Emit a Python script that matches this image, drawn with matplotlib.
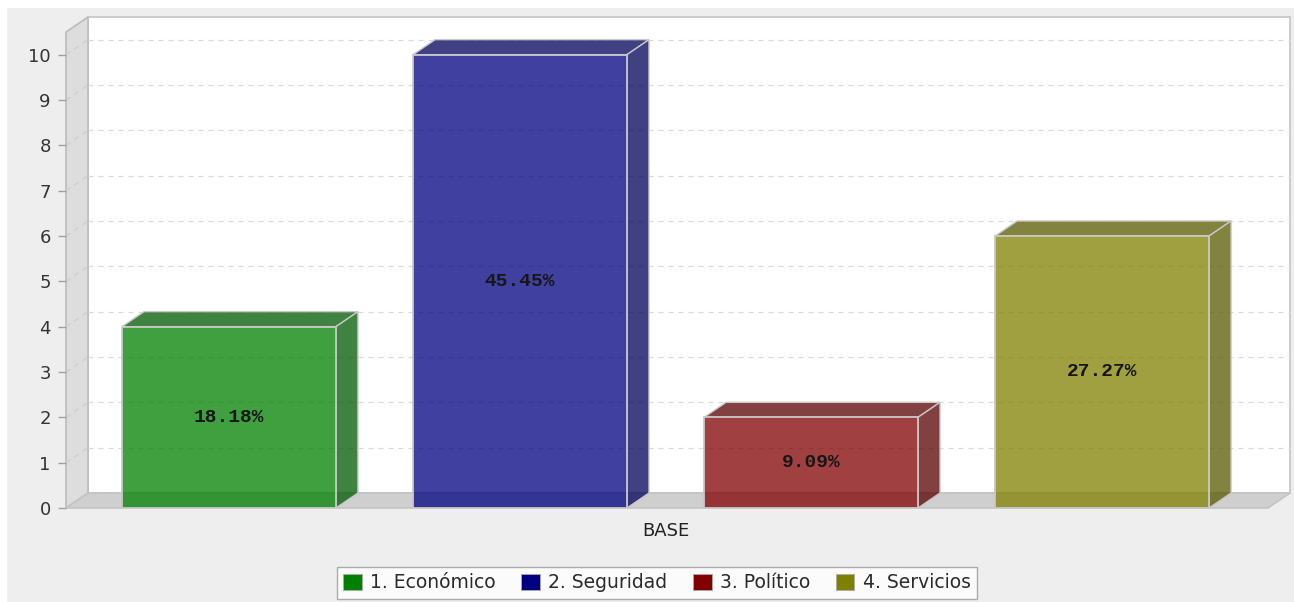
import numpy as np
import matplotlib
matplotlib.use("Agg")
import matplotlib.pyplot as plt
from matplotlib.patches import Polygon, Rectangle, Patch
from matplotlib.colors import to_rgb

plt.rcParams['font.family'] = ['DejaVu Sans']

# data
series = ["1. Económico", "2. Seguridad", "3. Político", "4. Servicios"]
values = [4, 10, 2, 6]
pct_labels = ["18.18%", "45.45%", "9.09%", "27.27%"]
base_colors = ["#008000", "#000080", "#800000", "#808000"]
category = "BASE"

W, H = 1294, 602
fig = plt.figure(figsize=(W / 100, H / 100), dpi=100)
fig.patch.set_facecolor("white")
fig.patches.append(Rectangle((7 / W, 0), 1, 1 - 8 / H, transform=fig.transFigure,
                             facecolor="#eeeeee", edgecolor="none", zorder=-10))

ax = fig.add_axes([66 / W, (H - 508) / H, 1202 / W, 476 / H])
ax.patch.set_alpha(0)
xmin, xmax = -0.56, 3.57
ymin, ymax = 0, 10.5
ax.set_xlim(xmin, xmax)
ax.set_ylim(ymin, ymax)
for s in ax.spines.values():
    s.set_visible(False)

# 3D depth offset (pixels -> data units)
px_x = 1202 / (xmax - xmin)
px_y = 476 / (ymax - ymin)
dx = 22 / px_x
dy = 15 / px_y

edge = "#c4c4c4"
# back wall
ax.add_patch(Polygon([(xmin + dx, dy), (xmax + dx, dy), (xmax + dx, ymax + dy), (xmin + dx, ymax + dy)],
                     closed=True, facecolor="white", edgecolor=edge, lw=1.2, clip_on=False, zorder=0))
# left wall
ax.add_patch(Polygon([(xmin, 0), (xmin + dx, dy), (xmin + dx, ymax + dy), (xmin, ymax)],
                     closed=True, facecolor="#dddddd", edgecolor="#bcbcbc", lw=1.2, clip_on=False, zorder=0.5))
# floor
ax.add_patch(Polygon([(xmin, 0), (xmax, 0), (xmax + dx, dy), (xmin + dx, dy)],
                     closed=True, facecolor="#cfcfcf", edgecolor=edge, lw=1.2, clip_on=False, zorder=0.5))

# grid lines
for v in range(1, 11):
    ax.plot([xmin + dx, xmax + dx], [v + dy, v + dy], ls=(0, (4, 4)), color="#d9d9d9",
            lw=0.9, clip_on=False, zorder=1)
    ax.plot([xmin, xmin + dx], [v, v + dy], ls=(0, (4, 4)), color="#cdcdcd",
            lw=0.9, clip_on=False, zorder=1)

# bars
bw = 0.735
xs = np.arange(len(values))
alpha = 0.75
for i, (v, c) in enumerate(zip(values, base_colors)):
    rgb = np.array(to_rgb(c))
    dark = rgb * 0.7
    x0, x1 = xs[i] - bw / 2, xs[i] + bw / 2
    ax.bar(xs[i], v, width=bw, color=(*rgb, alpha), edgecolor="#c8c8c8", lw=1.3, zorder=3)
    ax.add_patch(Polygon([(x0, v), (x1, v), (x1 + dx, v + dy), (x0 + dx, v + dy)], closed=True,
                         facecolor=(*dark, alpha), edgecolor="#c8c8c8", lw=1.0, zorder=2.5, clip_on=False))
    ax.add_patch(Polygon([(x1, 0), (x1 + dx, dy), (x1 + dx, v + dy), (x1, v)], closed=True,
                         facecolor=(*dark, alpha), edgecolor="#c8c8c8", lw=1.0, zorder=2.5, clip_on=False))
    ax.text(xs[i], v / 2, pct_labels[i], ha="center", va="center", fontsize=14,
            fontweight="bold", family="Liberation Mono", color="#161616", zorder=5)

ax.set_yticks(range(0, 11))
ax.tick_params(axis="y", length=6, width=1, color="#a0a0a0", labelsize=13, labelcolor="#333333", pad=5)
ax.set_xticks([(xs[0] + xs[-1]) / 2])
ax.set_xticklabels([category])
ax.tick_params(axis="x", length=0, labelsize=13, labelcolor="#222222", pad=10)

handles = [Patch(facecolor=c, edgecolor="#aaaaaa", lw=0.6) for c in base_colors]
leg = fig.legend(handles, series, loc="center", bbox_to_anchor=(657 / W, 1 - 583 / H), ncol=4,
                 fontsize=13.5, frameon=True, fancybox=False, handlelength=1.0, handleheight=1.0,
                 handletextpad=0.45, columnspacing=1.35, borderpad=0.35, labelcolor="#2a2a2a")
leg.get_frame().set_edgecolor("#999999")
leg.get_frame().set_linewidth(1.0)

fig.savefig("out.png", dpi=100)
